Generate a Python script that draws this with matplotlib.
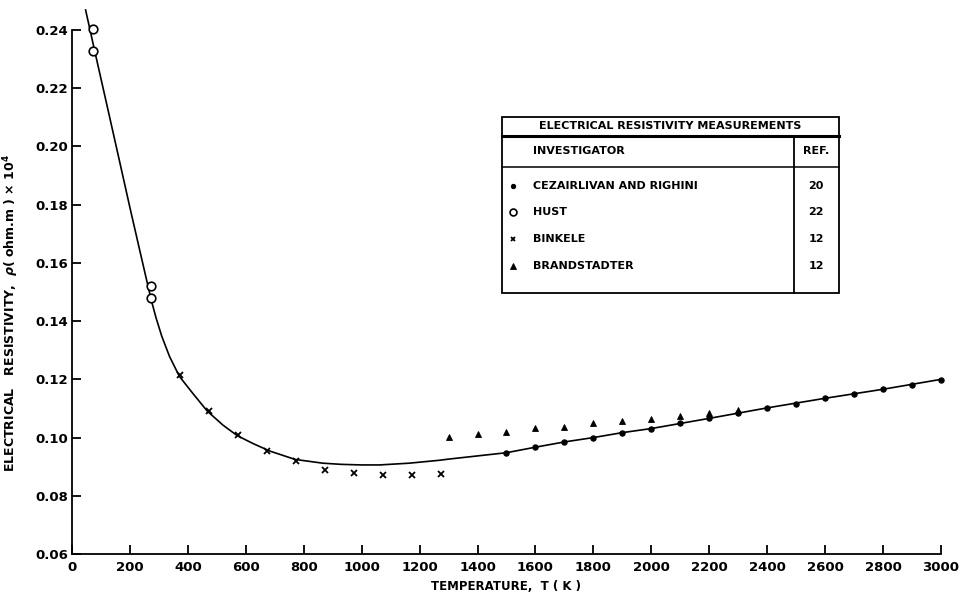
import numpy as np
import matplotlib
matplotlib.use("Agg")
import matplotlib.pyplot as plt
from matplotlib.lines import Line2D
from matplotlib.patches import Rectangle

plt.rcParams["font.family"] = ["DejaVu Sans"]
plt.rcParams["font.weight"] = "bold"

# ── Measurements, T in K, rho in ohm.m x 1e4 ─────────────────────────────────
CEZ_T   = [1500, 1600, 1700, 1800, 1900, 2000, 2100, 2200,
           2300, 2400, 2500, 2600, 2700, 2800, 2900, 3000]
CEZ_RHO = [0.0948, 0.0967, 0.0985, 0.1000, 0.1017, 0.1031, 0.1049, 0.1066,
           0.1084, 0.1102, 0.1116, 0.1135, 0.1151, 0.1166, 0.1181, 0.1198]

HUST_T   = [73, 73, 273, 273]
HUST_RHO = [0.2403, 0.2329, 0.1521, 0.1479]

BINK_T   = [373, 473, 573, 673, 773, 873, 973, 1073, 1173, 1273]
BINK_RHO = [0.1214, 0.1091, 0.1009, 0.0953, 0.0920,
            0.0889, 0.0880, 0.0870, 0.0870, 0.0875]

BRAND_T   = [1300, 1400, 1500, 1600, 1700, 1800, 1900, 2000, 2100, 2200, 2300]
BRAND_RHO = [0.1001, 0.1011, 0.1020, 0.1034, 0.1037, 0.1049,
             0.1057, 0.1065, 0.1073, 0.1085, 0.1094]

# recommended curve
REC_T   = [47, 78, 120, 160, 200, 240, 273, 290, 310, 337, 371, 417, 467,
           521, 570, 624, 682, 770, 866, 930, 1000, 1061, 1164, 1268, 1300,
           1400, 1500, 1600, 1700, 1800, 1900, 2000, 2200, 2400, 2600, 2800,
           3000]
REC_RHO = [0.2469, 0.2330, 0.2145, 0.1968, 0.1790, 0.1617, 0.1475, 0.1412,
           0.1348, 0.1278, 0.1210, 0.1152, 0.1091, 0.1043, 0.1007, 0.0980,
           0.0954, 0.0925, 0.0912, 0.0908, 0.0906, 0.0906, 0.0912, 0.0922,
           0.0926, 0.0937, 0.0948, 0.0967, 0.0985, 0.1000, 0.1017, 0.1031,
           0.1066, 0.1102, 0.1135, 0.1166, 0.1200]

X_TICKS = np.arange(0, 3001, 200)
Y_TICKS = [0.06, 0.08, 0.10, 0.12, 0.14, 0.16, 0.18, 0.20, 0.22, 0.24]

INVESTIGATORS = ["CEZAIRLIVAN AND RIGHINI", "HUST", "BINKELE", "BRANDSTADTER"]
REFS          = ["20", "22", "12", "12"]

# marker styles for each investigator
STYLES = [
    dict(marker="o", ms=3.8, mfc="black", mec="black", mew=0.8),
    dict(marker="o", ms=6.2, mfc="white", mec="black", mew=1.2),
    dict(marker="x", ms=4.0, mfc="black", mec="black", mew=1.3),
    dict(marker="^", ms=5.0, mfc="black", mec="black", mew=0.6),
]

fig = plt.figure(figsize=(9.61, 5.97), dpi=100)
ax = fig.add_axes([0.0749, 0.0720, 0.9043, 0.8777])

ax.plot(REC_T, REC_RHO, color="black", lw=1.2, clip_on=False, zorder=3,
        solid_joinstyle="round")

for (t, r), st in zip([(CEZ_T, CEZ_RHO), (HUST_T, HUST_RHO),
                       (BINK_T, BINK_RHO), (BRAND_T, BRAND_RHO)], STYLES):
    ax.plot(t, r, ls="none", color="black", clip_on=False, zorder=4, **st)

ax.set_xlim(0, 3000)
ax.set_ylim(0.06, 0.24)
ax.set_xticks(X_TICKS)
ax.set_xticklabels([str(v) for v in X_TICKS])
ax.set_yticks(Y_TICKS)
ax.set_yticklabels([f"{v:.2f}" for v in Y_TICKS])

for s in ("top", "right"):
    ax.spines[s].set_visible(False)
for s in ("left", "bottom"):
    ax.spines[s].set_linewidth(1.3)

ax.tick_params(axis="both", direction="in", length=6.5, width=1.3,
               labelsize=9.5)
ax.tick_params(axis="x", pad=5)
ax.tick_params(axis="y", pad=3)

ax.set_xlabel("TEMPERATURE,  T ( K )", fontsize=8.5, fontweight="bold",
              labelpad=4)
ax.set_ylabel(r"ELECTRICAL   RESISTIVITY,  $\rho$( ohm.m ) × 10$^4$",
              fontsize=9, fontweight="bold")
ax.yaxis.set_label_coords(-0.059, 0.46)

# ── Legend table (figure coordinates) ────────────────────────────────────────
W, H = 961.0, 597.0
def fx(px):
    return px / W
def fy(py):
    return 1 - py / H

tf = fig.transFigure
left, right, top, bottom = 502, 839, 117, 293
div_x = 794
fig.add_artist(Rectangle((fx(left), fy(bottom)), fx(right) - fx(left),
                         fy(top) - fy(bottom), transform=tf,
                         fill=False, ec="black", lw=1.3))
fig.add_artist(Line2D([fx(left), fx(right)], [fy(136), fy(136)],
                      transform=tf, color="black", lw=2.2))
fig.add_artist(Line2D([fx(left), fx(right)], [fy(167), fy(167)],
                      transform=tf, color="black", lw=1.1))
fig.add_artist(Line2D([fx(div_x), fx(div_x)], [fy(136), fy(bottom)],
                      transform=tf, color="black", lw=1.3))

fig.text(fx((left + right) / 2), fy(126.5), "ELECTRICAL RESISTIVITY MEASUREMENTS",
         ha="center", va="center", fontsize=8, fontweight="bold")
fig.text(fx(533), fy(151), "INVESTIGATOR", ha="left", va="center",
         fontsize=8, fontweight="bold")
fig.text(fx(816), fy(151), "REF.", ha="center", va="center",
         fontsize=8, fontweight="bold")

row_y = [186, 212, 239, 266]
for name, ref, st, yy in zip(INVESTIGATORS, REFS, STYLES, row_y):
    mk = dict(st)
    mk["ms"] = mk["ms"] * 0.8
    fig.add_artist(Line2D([fx(513)], [fy(yy)], transform=tf, ls="none",
                          color="black", **mk))
    fig.text(fx(533), fy(yy), name, ha="left", va="center",
             fontsize=8, fontweight="bold")
    fig.text(fx(816), fy(yy), ref, ha="center", va="center",
             fontsize=8, fontweight="bold")

fig.savefig("out.png", dpi=100, facecolor="white")
